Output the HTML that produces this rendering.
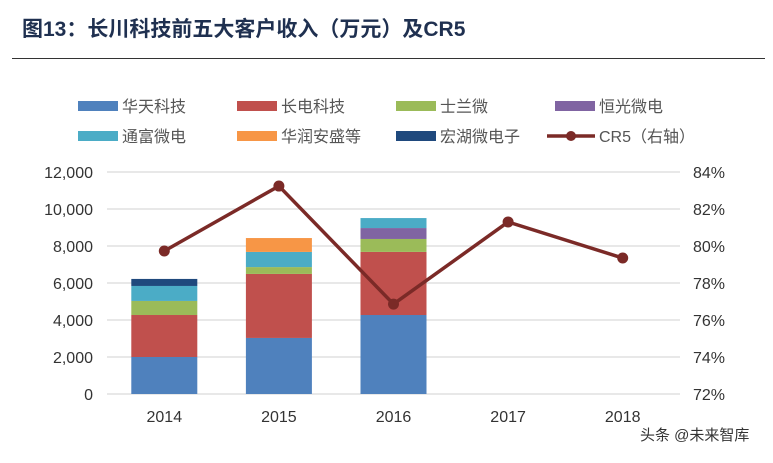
<!DOCTYPE html>
<html><head><meta charset="utf-8">
<style>
body{margin:0;background:#fff;}
svg text{font-family:"Liberation Sans","Noto Sans CJK SC",sans-serif;}
</style></head>
<body>
<svg width="773" height="458" xmlns="http://www.w3.org/2000/svg">
<text x="22" y="36" font-size="21" font-weight="bold" fill="#1f3050">图13：长川科技前五大客户收入（万元）及CR5</text>
<line x1="12" y1="58.5" x2="765" y2="58.5" stroke="#333" stroke-width="1"/>
<g id="legend"></g>
<g id="grid"></g>
<g id="bars"></g>
<g id="line"></g>
<g id="axes"></g>
<text x="640" y="440" font-size="15" fill="#333">头条 @未来智库</text>
</svg>
<script>
const categories=["2014","2015","2016","2017","2018"];
const seriesNames=["华天科技","长电科技","士兰微","恒光微电","通富微电","华润安盛等","宏湖微电子"];
const colors=["#4f81bd","#c0504d","#9bbb59","#8064a2","#4bacc6","#f79646","#1f497d"];
const huatian=[2000,3030,4270,0,0];
const changdian=[2270,3460,3410,0,0];
const shilan=[760,370,700,0,0];
const hengguang=[0,0,590,0,0];
const tongfu=[810,820,540,0,0];
const huarun=[0,750,0,0,0];
const honghu=[380,0,0,0,0];
const cr5=[79.73,83.24,76.86,81.3,79.35];
const leftTicks=[0,2000,4000,6000,8000,10000,12000];
const rightTicks=[72,74,76,78,80,82,84];
const series=[huatian,changdian,shilan,hengguang,tongfu,huarun,honghu];
const NS="http://www.w3.org/2000/svg";
const y0=394,y1=172,xL=107,xR=680;
const yL=v=>y0-(v/12000)*(y0-y1);
const yR=v=>y0-((v-72)/12)*(y0-y1);
const step=(xR-xL)/categories.length;
const xC=i=>xL+step*(i+0.5);
function mk(t,a,p){const e=document.createElementNS(NS,t);for(const k in a)e.setAttribute(k,a[k]);p.appendChild(e);return e;}
const grid=document.getElementById('grid'),axes=document.getElementById('axes');
leftTicks.forEach((v,i)=>{
 const g=mk('line',{x1:xL,x2:xR,y1:yL(v),y2:yL(v),stroke:'#d9d9d9','stroke-width':1.3},grid);
 
 
 const t=mk('text',{x:93,y:yL(v)+6,'text-anchor':'end','font-size':16,fill:'#333'},axes);
 t.textContent=v.toLocaleString('en-US');
 
 
});
rightTicks.forEach(v=>{
 const t=mk('text',{x:693,y:yR(v)+6,'font-size':16,fill:'#333'},axes);
 t.textContent=v+'%';
 
 
});
categories.forEach((c,i)=>{
 const t=mk('text',{x:xC(i),y:422,'text-anchor':'middle','font-size':16,fill:'#333'},axes);
 t.textContent=c;
 
 
});
const bars=document.getElementById('bars');
categories.forEach((c,i)=>{
 let acc=0;
 series.forEach((s,k)=>{
  const v=s[i]; if(!v)return;
  const r=mk('rect',{x:xC(i)-33,width:66,y:yL(acc+v),height:yL(acc)-yL(acc+v),fill:colors[k]},bars);
  
  
  acc+=v;
 });
});
const line=document.getElementById('line');
const pl=mk('polyline',{points:cr5.map((v,i)=>xC(i)+','+yR(v)).join(' '),fill:'none',stroke:'#7b2a27','stroke-width':3.5},line);


cr5.forEach((v,i)=>{
 const p=mk('circle',{cx:xC(i),cy:yR(v),r:5.5,fill:'#7b2a27'},line);
 
 
});
const leg=document.getElementById('legend');
const lx=[78,237,396,555];
const items=seriesNames.map((n,k)=>({n,c:colors[k]})).concat([{n:'CR5（右轴）',line:true}]);
items.forEach((it,k)=>{
 const x=lx[k%4],y=k<4?106:136;
 if(it.line){
  mk('line',{x1:x-8,x2:x+40,y1:y,y2:y,stroke:'#7b2a27','stroke-width':3.5},leg);
  mk('circle',{cx:x+16,cy:y,r:5,fill:'#7b2a27'},leg);
 } else mk('rect',{x:x,y:y-5,width:40,height:10,fill:it.c},leg);
 const t=mk('text',{x:x+44,y:y+6,'font-size':16,fill:'#555'},leg);
 t.textContent=it.n;
 
 
});
</script>
</body></html>
